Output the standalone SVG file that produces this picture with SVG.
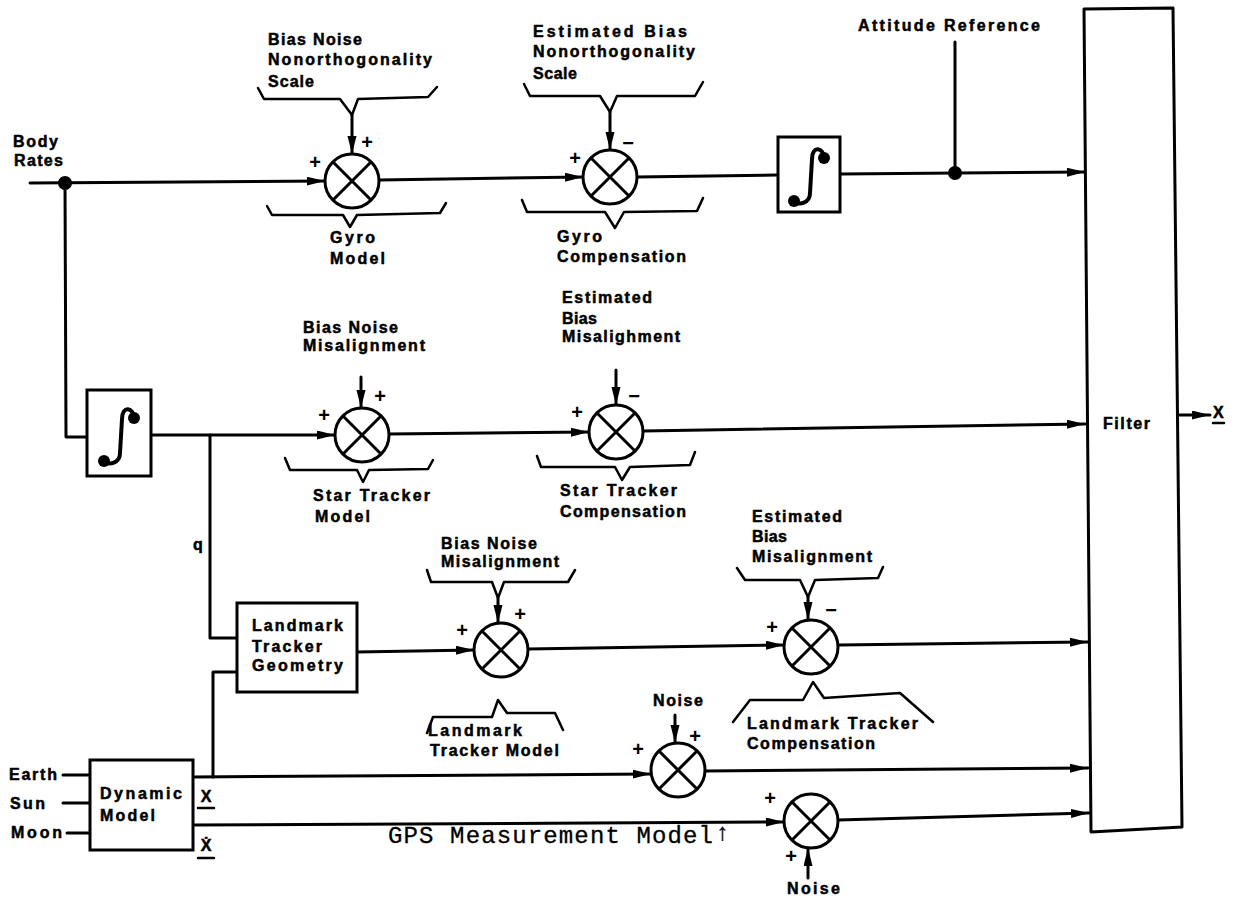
<svg xmlns="http://www.w3.org/2000/svg" xmlns:xlink="http://www.w3.org/1999/xlink" width="1236" height="898" viewBox="0 0 1236 898">
<defs>
<style>
.ln{fill:none;stroke:#000;stroke-width:3;stroke-linejoin:round;stroke-linecap:round}
.br{fill:none;stroke:#000;stroke-width:2.5;stroke-linejoin:round;stroke-linecap:round}
.box{fill:#fff;stroke:#000;stroke-width:3}
.t{font-family:"Liberation Sans",Arial,sans-serif;font-weight:bold;font-size:16px;fill:#000;stroke:#000;stroke-width:0.5}
.sg{font-family:"Liberation Sans",Arial,sans-serif;font-weight:bold;font-size:20px;fill:#000;text-anchor:middle}
.mono{font-family:"Liberation Mono","Courier New",monospace;font-size:24px;fill:#000;stroke:#000;stroke-width:0.3}
.dot{fill:#000}
</style>
<marker id="ah" markerUnits="userSpaceOnUse" markerWidth="20" markerHeight="12" refX="18" refY="4.5" orient="auto">
<path d="M0,0 L18,4.5 L0,9 z" fill="#000"/>
</marker>
<g id="sum">
<circle r="27" fill="#fff" stroke="#000" stroke-width="3"/>
<path d="M-19,-19 L19,19 M19,-19 L-19,19" stroke="#000" stroke-width="3"/>
</g>
<g id="integ">
<path d="M15,-16 C15,-28 3,-30 3,-16 L1,18 C1,28 -10,31 -15,26" fill="none" stroke="#000" stroke-width="4"/>
<circle cx="15" cy="-17" r="6" fill="#000"/>
<circle cx="-15" cy="26" r="6" fill="#000"/>
</g>
</defs>
<rect width="1236" height="898" fill="#fff"/>

<g id="connectors">
<path class="ln" d="M30,183 L325,181" marker-end="url(#ah)"/>
<path class="ln" d="M65,183 L66,437 L87,437"/>
<path class="ln" d="M379,180 L583,177" marker-end="url(#ah)"/>
<path class="ln" d="M637,177 L778,175"/>
<path class="ln" d="M840,174 L1085,172" marker-end="url(#ah)"/>
<path class="ln" d="M955,42 L955,173"/>
<circle class="dot" cx="65" cy="183" r="7"/>
<circle class="dot" cx="955" cy="173" r="7"/>
<path class="br" d="M258,88 L264,99 L340,99 L352,115 L358,99 L428,97 L437,87"/>
<path class="ln" d="M352,115 L352,154" marker-end="url(#ah)"/>
<path class="br" d="M267,206 L272,215 L343,215 L350,227 L357,215 L440,213 L446,203"/>
<path class="br" d="M524,84 L530,96 L600,96 L610,112 L617,96 L695,96 L703,82"/>
<path class="ln" d="M610,112 L610,150" marker-end="url(#ah)"/>
<path class="br" d="M522,200 L527,212 L605,212 L615,228 L624,212 L697,211 L703,198"/>
<path class="ln" d="M151,435 L335,435" marker-end="url(#ah)"/>
<path class="ln" d="M210,435 L210,638 L237,638"/>
<path class="ln" d="M361,377 L361,408" marker-end="url(#ah)"/>
<path class="br" d="M285,458 L290,470 L357,470 L363,482 L369,470 L428,469 L433,460"/>
<path class="ln" d="M389,434 L589,432" marker-end="url(#ah)"/>
<path class="ln" d="M616,370 L616,405" marker-end="url(#ah)"/>
<path class="br" d="M537,456 L541,467 L615,467 L622,480 L630,467 L690,465 L695,452"/>
<path class="ln" d="M643,431 L1085,424" marker-end="url(#ah)"/>
<path class="ln" d="M357,652 L474,650" marker-end="url(#ah)"/>
<path class="br" d="M427,570 L431,582 L492,582 L498,598 L504,582 L568,582 L575,570"/>
<path class="ln" d="M498,598 L498,623" marker-end="url(#ah)"/>
<path class="br" d="M427,733 L433,717 L492,717 L498,700 L507,713 L555,713 L563,730"/>
<path class="ln" d="M528,649 L784,645" marker-end="url(#ah)"/>
<path class="br" d="M737,568 L745,580 L800,580 L808,597 L815,580 L878,578 L883,567"/>
<path class="ln" d="M808,597 L808,620" marker-end="url(#ah)"/>
<path class="br" d="M733,722 L750,700 L803,700 L813,682 L824,698 L900,693 L933,722"/>
<path class="ln" d="M839,645 L1088,642" marker-end="url(#ah)"/>
<path class="ln" d="M193,777 L651,774" marker-end="url(#ah)"/>
<path class="ln" d="M213,777 L213,672 L237,672"/>
<path class="ln" d="M675,715 L675,743" marker-end="url(#ah)"/>
<path class="ln" d="M705,771 L1088,768" marker-end="url(#ah)"/>
<path class="ln" d="M193,825 L784,822" marker-end="url(#ah)"/>
<path class="ln" d="M808,878 L808,848" marker-end="url(#ah)"/>
<path class="ln" d="M838,820 L1089,813" marker-end="url(#ah)"/>
<path class="ln" d="M63,775 L90,775 M63,803 L90,803 M67,833 L90,833"/>
<path class="ln" d="M1177,415 L1210,415" marker-end="url(#ah)"/>
</g>

<g id="body-rates">
<text class="t" x="13" y="147" textLength="45" lengthAdjust="spacing">Body</text>
<text class="t" x="14" y="166" textLength="49" lengthAdjust="spacing">Rates</text>
</g>

<g id="gyro-model">
<use xlink:href="#sum" x="352" y="181"/>
<text class="t" x="268" y="45" textLength="94" lengthAdjust="spacing">Bias Noise</text>
<text class="t" x="268" y="65" textLength="164" lengthAdjust="spacing">Nonorthogonality</text>
<text class="t" x="268" y="87" textLength="46" lengthAdjust="spacing">Scale</text>
<text class="t" x="330" y="243" textLength="45" lengthAdjust="spacing">Gyro</text>
<text class="t" x="330" y="264" textLength="55" lengthAdjust="spacing">Model</text>
<text class="sg" x="315" y="169">+</text>
<text class="sg" x="367" y="149">+</text>
</g>

<g id="gyro-compensation">
<use xlink:href="#sum" x="610" y="177"/>
<text class="t" x="533" y="37" textLength="154" lengthAdjust="spacing">Estimated Bias</text>
<text class="t" x="533" y="57" textLength="162" lengthAdjust="spacing">Nonorthogonality</text>
<text class="t" x="533" y="79" textLength="44" lengthAdjust="spacing">Scale</text>
<text class="t" x="557" y="242" textLength="45" lengthAdjust="spacing">Gyro</text>
<text class="t" x="557" y="262" textLength="129" lengthAdjust="spacing">Compensation</text>
<text class="sg" x="575" y="165">+</text>
<text class="sg" x="628" y="150">−</text>
</g>

<g id="integrator-1">
<rect class="box" x="778" y="137" width="62" height="75"/>
<use xlink:href="#integ" x="809" y="175"/>
</g>

<g id="attitude-reference">
<text class="t" x="858" y="31" textLength="182" lengthAdjust="spacing">Attitude Reference</text>
</g>

<g id="filter">
<polygon points="1084,9 1173,8 1182,827 1091,832" fill="#fff" stroke="#000" stroke-width="3" stroke-linejoin="round"/>
<text class="t" x="1103" y="429" textLength="47" lengthAdjust="spacing">Filter</text>
<text class="t" x="1213" y="418" font-size="15">X</text>
<path class="br" d="M1213,423 L1224,423"/>
</g>

<g id="integrator-2">
<rect class="box" x="87" y="390" width="64" height="86"/>
<use xlink:href="#integ" x="119" y="435"/>
</g>

<g id="star-tracker-model">
<use xlink:href="#sum" x="362" y="435"/>
<text class="t" x="303" y="333" textLength="95" lengthAdjust="spacing">Bias Noise</text>
<text class="t" x="303" y="351" textLength="122" lengthAdjust="spacing">Misalignment</text>
<text class="t" x="313" y="501" textLength="117" lengthAdjust="spacing">Star Tracker</text>
<text class="t" x="315" y="522" textLength="55" lengthAdjust="spacing">Model</text>
<text class="sg" x="324" y="422">+</text>
<text class="sg" x="380" y="403">+</text>
</g>

<g id="star-tracker-compensation">
<use xlink:href="#sum" x="616" y="432"/>
<text class="t" x="562" y="303" textLength="90" lengthAdjust="spacing">Estimated</text>
<text class="t" x="562" y="324" textLength="35" lengthAdjust="spacing">Bias</text>
<text class="t" x="562" y="342" textLength="118" lengthAdjust="spacing">Misalighment</text>
<text class="t" x="560" y="496" textLength="117" lengthAdjust="spacing">Star Tracker</text>
<text class="t" x="560" y="517" textLength="126" lengthAdjust="spacing">Compensation</text>
<text class="sg" x="577" y="419">+</text>
<text class="sg" x="634" y="403">−</text>
</g>

<g id="q-label">
<text class="t" x="193" y="550">q</text>
</g>

<g id="landmark-tracker-geometry">
<rect class="box" x="237" y="603" width="120" height="89"/>
<text class="t" x="252" y="631" textLength="91" lengthAdjust="spacing">Landmark</text>
<text class="t" x="252" y="652" textLength="70" lengthAdjust="spacing">Tracker</text>
<text class="t" x="252" y="671" textLength="91" lengthAdjust="spacing">Geometry</text>
</g>

<g id="landmark-tracker-model">
<use xlink:href="#sum" x="501" y="650"/>
<text class="t" x="441" y="549" textLength="96" lengthAdjust="spacing">Bias Noise</text>
<text class="t" x="441" y="567" textLength="118" lengthAdjust="spacing">Misalignment</text>
<text class="t" x="428" y="736" textLength="94" lengthAdjust="spacing">Landmark</text>
<text class="t" x="430" y="756" textLength="129" lengthAdjust="spacing">Tracker Model</text>
<text class="sg" x="462" y="637">+</text>
<text class="sg" x="520" y="621">+</text>
</g>

<g id="landmark-tracker-compensation">
<use xlink:href="#sum" x="811" y="647"/>
<text class="t" x="752" y="522" textLength="90" lengthAdjust="spacing">Estimated</text>
<text class="t" x="752" y="542" textLength="35" lengthAdjust="spacing">Bias</text>
<text class="t" x="752" y="562" textLength="120" lengthAdjust="spacing">Misalignment</text>
<text class="t" x="747" y="729" textLength="171" lengthAdjust="spacing">Landmark Tracker</text>
<text class="t" x="747" y="749" textLength="128" lengthAdjust="spacing">Compensation</text>
<text class="sg" x="772" y="634">+</text>
<text class="sg" x="831" y="617">−</text>
</g>

<g id="gps-position-summer">
<use xlink:href="#sum" x="678" y="770"/>
<text class="t" x="653" y="706" textLength="50" lengthAdjust="spacing">Noise</text>
<text class="sg" x="638" y="756">+</text>
<text class="sg" x="695" y="743">+</text>
</g>

<g id="gps-velocity-summer">
<use xlink:href="#sum" x="811" y="821"/>
<text class="t" x="787" y="894" textLength="53" lengthAdjust="spacing">Noise</text>
<text class="sg" x="770" y="805">+</text>
<text class="sg" x="791" y="863">+</text>
</g>

<g id="gps-measurement-model">
<text class="mono" x="388" y="843" textLength="325" lengthAdjust="spacing">GPS Measurement Model</text>
<text class="mono" x="715" y="840" font-size="18">↑</text>
</g>

<g id="dynamic-model">
<rect class="box" x="90" y="760" width="103" height="90"/>
<text class="t" x="100" y="799" textLength="82" lengthAdjust="spacing">Dynamic</text>
<text class="t" x="100" y="821" textLength="55" lengthAdjust="spacing">Model</text>
<text class="t" x="9" y="780" textLength="48" lengthAdjust="spacing">Earth</text>
<text class="t" x="10" y="809" textLength="35" lengthAdjust="spacing">Sun</text>
<text class="t" x="11" y="838" textLength="51" lengthAdjust="spacing">Moon</text>
<text class="t" x="206" y="802" font-size="19" text-anchor="middle">X</text>
<path class="br" d="M198,808 L214,808"/>
<text class="t" x="206" y="851" font-size="19" text-anchor="middle" font-family="'Liberation Sans','DejaVu Sans',sans-serif">Ẋ</text>
<path class="br" d="M198,858 L214,858"/>
</g>
</svg>
